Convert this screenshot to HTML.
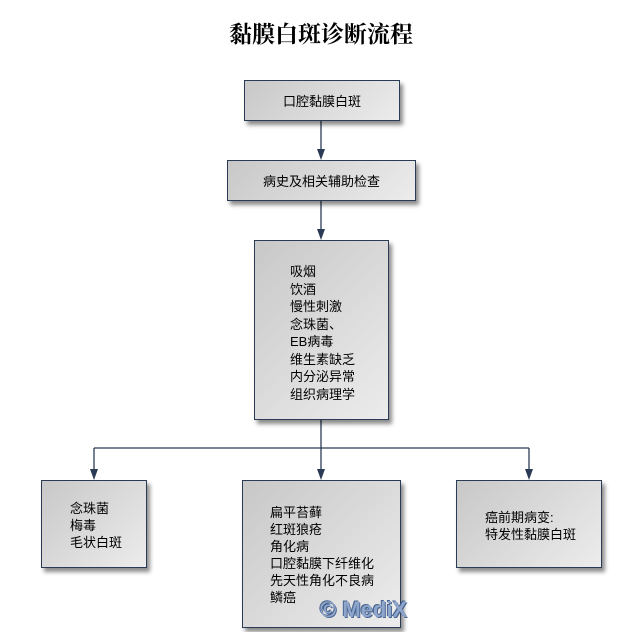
<!DOCTYPE html>
<html><head><meta charset="utf-8"><style>
body{margin:0;width:642px;height:632px;background:#fff;position:relative;overflow:hidden;font-family:"Liberation Sans","Noto Sans CJK SC",sans-serif;}
.b{position:absolute;box-sizing:border-box;border:1px solid #2b3b55;background:linear-gradient(135deg,#c8c8c8,#ececec);box-shadow:3px 4px 4px rgba(0,0,0,0.45);font-size:13px;color:#000;}
.c{display:flex;align-items:center;justify-content:center;}
.t{position:absolute;line-height:17.5px;white-space:nowrap;}
h1{position:absolute;left:0;width:642px;top:16px;margin:0;text-align:center;font-size:23px;font-weight:bold;font-family:"Liberation Serif","Noto Serif CJK SC",serif;}
svg{position:absolute;left:0;top:0;}
</style></head><body>
<h1>黏膜白斑诊断流程</h1>
<svg width="642" height="632">
<g stroke="#2b3b55" stroke-width="1.3" fill="none">
<line x1="321" y1="120" x2="321" y2="152"/>
<line x1="321" y1="200" x2="321" y2="232"/>
<line x1="321" y1="420" x2="321" y2="472"/>
<line x1="94" y1="448" x2="529" y2="448"/>
<line x1="94" y1="448" x2="94" y2="472"/>
<line x1="529" y1="448" x2="529" y2="472"/>
</g>
<g fill="#2b3b55">
<polygon points="317,149 325,149 321,160"/>
<polygon points="317,229 325,229 321,240"/>
<polygon points="317,469 325,469 321,480"/>
<polygon points="90,469 98,469 94,480"/>
<polygon points="525,469 533,469 529,480"/>
</g>
</svg>
<div class="b c" style="left:244px;top:80px;width:156px;height:41px;">口腔黏膜白斑</div>
<div class="b c" style="left:227px;top:160px;width:189px;height:41px;">病史及相关辅助检查</div>
<div class="b" style="left:254px;top:240px;width:135px;height:180px;"><div class="t" style="left:35px;top:22px;">吸烟<br>饮酒<br>慢性刺激<br>念珠菌、<br>EB病毒<br>维生素缺乏<br>内分泌异常<br>组织病理学</div></div>
<div class="b" style="left:41px;top:480px;width:106px;height:88px;"><div class="t" style="left:28px;top:19px;line-height:17px;">念珠菌<br>梅毒<br>毛状白斑</div></div>
<div class="b" style="left:242px;top:480px;width:159px;height:148px;"><div class="t" style="left:27px;top:23px;line-height:17px;">扁平苔藓<br>红斑狼疮<br>角化病<br>口腔黏膜下纤维化<br>先天性角化不良病<br>鳞癌</div></div>
<div class="b" style="left:456px;top:480px;width:146px;height:88px;"><div class="t" style="left:28px;top:28px;line-height:17px;">癌前期病变:<br>特发性黏膜白斑</div></div>
<div style="position:absolute;left:320px;top:597px;font-size:22px;font-weight:bold;color:#8ea6cc;font-family:'Liberation Sans',sans-serif;text-shadow:1px 1px 0 #4a6590,-1px -1px 0 #4a6590;">© MediX</div>
</body></html>
